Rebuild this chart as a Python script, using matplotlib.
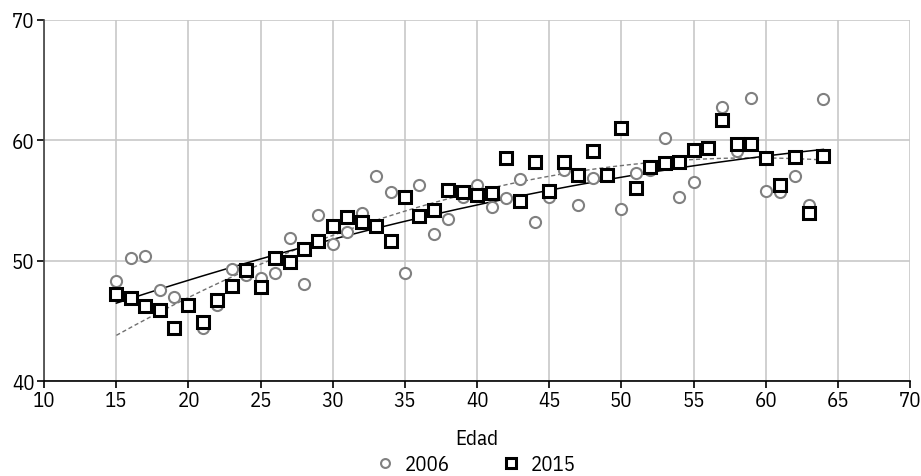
import matplotlib.pyplot as plt
import numpy as np

# edad 15..64
edad = list(range(15, 65))

v2006 = [48.3, 50.2, 50.4, 47.6, 47.0, 46.4, 44.4, 46.3, 49.3, 48.8,
         48.6, 49.0, 51.9, 48.1, 53.8, 51.4, 52.4, 54.0, 57.0, 55.7,
         49.0, 56.3, 52.2, 53.5, 55.3, 56.3, 54.5, 55.2, 56.8, 53.2,
         55.3, 57.5, 54.6, 56.9, 57.1, 54.3, 57.3, 57.5, 60.2, 55.3,
         56.5, 59.4, 62.8, 59.1, 63.5, 55.8, 55.7, 57.0, 54.6, 63.4]

v2015 = [47.2, 46.9, 46.2, 45.9, 44.4, 46.3, 44.9, 46.7, 47.9, 49.2,
         47.8, 50.2, 49.9, 51.0, 51.6, 52.9, 53.6, 53.2, 52.9, 51.6,
         55.3, 53.7, 54.2, 55.9, 55.7, 55.5, 55.6, 58.5, 55.0, 58.2,
         55.8, 58.2, 57.1, 59.1, 57.1, 61.0, 56.0, 57.8, 58.1, 58.2,
         59.2, 59.4, 61.7, 59.7, 59.7, 58.5, 56.3, 58.6, 54.0, 58.7]

plt.rcParams['font.family'] = ['IBM Plex Sans Condensed', 'DejaVu Sans']

fig, ax = plt.subplots(figsize=(9.21, 4.77), dpi=100)
fig.subplots_adjust(left=0.048, right=0.988, top=0.956, bottom=0.199)

x = np.array(edad)

# polynomial trend lines (order 2)
xs = np.linspace(15, 64, 200)
p06 = np.polyfit(x, v2006, 2)
p15 = np.polyfit(x, v2015, 2)
ax.plot(xs, np.polyval(p15, xs), color='#707070', lw=1.0, ls=(0, (3, 2)), zorder=2)
ax.plot(xs, np.polyval(p06, xs), color='black', lw=1.1, zorder=2)

ax.plot(x, v2006, ls='none', marker='o', ms=8, mfc='white', mec='#808080',
        mew=1.5, label='2006', zorder=3)
ax.plot(x, v2015, ls='none', marker='s', ms=9, mfc='white', mec='black',
        mew=2.2, label='2015', zorder=4)

ax.set_xlim(10, 70)
ax.set_ylim(40, 70)
ax.set_xticks(range(10, 71, 5))
ax.set_yticks(range(40, 71, 10))
ax.grid(True, color='#c8c8c8', lw=1.2)
ax.set_axisbelow(True)

for s in ['top', 'right']:
    ax.spines[s].set_visible(False)
ax.spines['left'].set_color('#404040')
ax.spines['left'].set_linewidth(1.2)
ax.spines['bottom'].set_color('black')
ax.spines['bottom'].set_linewidth(1.2)
ax.tick_params(axis='both', direction='out', length=5, width=1.2, labelsize=15,
               colors='black', pad=2)

ax.set_xlabel('Edad', fontsize=15, labelpad=14)

leg = fig.legend(handles=ax.get_lines()[2:], loc='center', bbox_to_anchor=(0.517, 0.024),
                 ncol=2, frameon=False, fontsize=15, handletextpad=0.55,
                 columnspacing=2.5, handlelength=0.8, borderaxespad=0, borderpad=0,
                 markerscale=0.8)

fig.savefig('out.png', dpi=100)
